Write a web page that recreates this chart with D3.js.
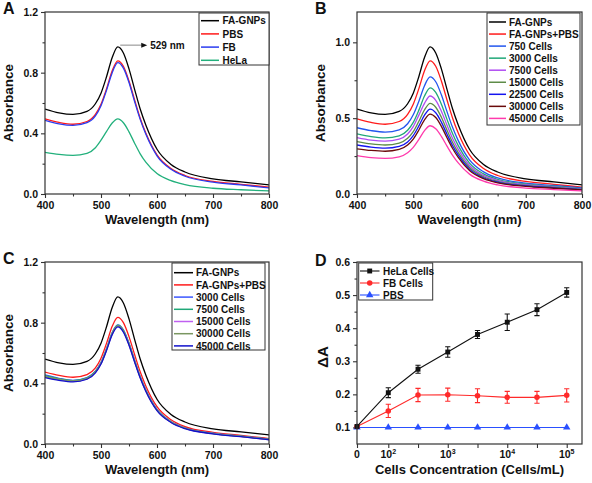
<!DOCTYPE html>
<html>
<head>
<meta charset="utf-8">
<script src="https://cdn.jsdelivr.net/npm/d3@7"></script>
<style>
body { margin: 0; background: #fff; }
text { font-family: "Liberation Sans", Arial, sans-serif; font-weight: bold; fill: #111; }
</style>
</head>
<body>
<svg id="fig" width="592" height="483"></svg>
<script>
// wavelengths (nm) the spectra were read at
var wavelength = [400,425,450,475,490,500,510,520,530,540,550,560,570,580,600,625,650,700,750,800];

// A: FA-GNPs with PBS / FB / HeLa
var faGnps  = [.560,.535,.525,.545,.595,.665,.775,.900,.970,.930,.825,.690,.560,.455,.295,.195,.145,.100,.080,.060];
var aPbs    = [.495,.472,.460,.478,.525,.592,.695,.812,.878,.842,.745,.620,.500,.402,.258,.168,.122,.083,.064,.045];
var aFb     = [.485,.462,.452,.470,.515,.582,.685,.800,.866,.830,.735,.610,.492,.395,.252,.163,.117,.078,.060,.040];
var aHela   = [.275,.261,.255,.268,.305,.355,.413,.468,.495,.470,.410,.335,.265,.210,.135,.088,.062,.038,.028,.020];
var aNames  = ["FA-GNPs","PBS","FB","HeLa"];

// B: HeLa cell numbers
var b750   = [.437,.418,.408,.423,.463,.522,.612,.714,.772,.740,.654,.543,.438,.352,.225,.146,.106,.072,.056,.040];
var b3000  = [.396,.378,.370,.384,.420,.472,.553,.646,.700,.670,.592,.492,.397,.319,.204,.133,.097,.066,.051,.036];
var b7500  = [.372,.355,.348,.362,.396,.444,.520,.598,.646,.618,.546,.454,.366,.294,.188,.123,.090,.061,.047,.033];
var b15000 = [.345,.330,.323,.336,.367,.411,.480,.555,.598,.572,.506,.421,.340,.273,.175,.114,.083,.057,.044,.031];
var b22500 = [.323,.309,.302,.314,.343,.385,.449,.520,.560,.536,.474,.394,.318,.256,.164,.107,.078,.053,.041,.029];
var b30000 = [.298,.287,.282,.294,.323,.362,.422,.489,.527,.504,.446,.371,.300,.241,.155,.101,.074,.050,.038,.027];
var b45000 = [.253,.240,.235,.245,.272,.307,.360,.418,.450,.430,.380,.316,.255,.205,.131,.085,.060,.039,.029,.020];
var bNames = ["FA-GNPs","FA-GNPs+PBS","750 Cells","3000 Cells","7500 Cells","15000 Cells","22500 Cells","30000 Cells","45000 Cells"];

// C: FB cell numbers
var cPbs   = [.474,.452,.440,.458,.502,.566,.665,.776,.835,.800,.708,.590,.476,.383,.246,.160,.115,.077,.057,.036];
var c3000  = [.455,.433,.420,.438,.480,.538,.630,.735,.786,.752,.665,.553,.445,.357,.228,.148,.106,.071,.052,.032];
var c7500  = [.450,.430,.418,.436,.478,.535,.627,.732,.783,.749,.662,.550,.443,.355,.226,.147,.105,.070,.051,.031];
var c15000 = [.442,.424,.413,.430,.472,.530,.621,.725,.776,.742,.655,.544,.438,.350,.222,.144,.103,.068,.049,.029];
var c30000 = [.445,.427,.416,.433,.475,.532,.624,.729,.780,.746,.659,.547,.441,.353,.224,.146,.104,.069,.050,.030];
var c45000 = [.438,.420,.410,.427,.469,.527,.618,.721,.772,.738,.651,.541,.435,.348,.220,.142,.101,.067,.048,.028];
var cNames = ["FA-GNPs","FA-GNPs+PBS","3000 Cells","7500 Cells","15000 Cells","30000 Cells","45000 Cells"];

// D: delta A vs cell concentration
var dConc    = [0, 100, 316, 1000, 3162, 10000, 31623, 100000];
var dHela    = [0.103,0.205,0.276,0.328,0.381,0.418,0.456,0.508];
var dHelaErr = [0,0.015,0.012,0.016,0.012,0.025,0.018,0.014];
var dFb      = [0.103,0.150,0.198,0.199,0.196,0.191,0.191,0.197];
var dFbErr   = [0,0.020,0.020,0.020,0.021,0.018,0.018,0.020];
var dPbs     = [0.1,0.1,0.1,0.1,0.1,0.1,0.1,0.1];
var dNames   = ["HeLa Cells","FB Cells","PBS"];

var svg = d3.select("#fig");

var panels = [
    {letter:"A", left:45, right:269, top:12, bottom:194,
     yTicks:[0,0.4,0.8,1.2], yMinor:[0.2,0.6,1.0],
     names:aNames, series:[faGnps,aPbs,aFb,aHela],
     colors:["#000000","#ff1a1a","#2a3cf0","#22b07c"],
     legend:{x:199, y:13, w:70, h:52, first:20.7, step:13.2, l1:201, l2:219, tx:222.5}},
    {letter:"B", left:357, right:582, top:12, bottom:194,
     yTicks:[0,0.5,1.0], yMinor:[0.25,0.75],
     names:bNames, series:[faGnps,aPbs,b750,b3000,b7500,b15000,b22500,b30000,b45000],
     colors:["#000000","#ff1a1a","#2255ee","#20a878","#b04cf2","#5e8c48","#1414f0","#6a0a0a","#ff3aac"],
     legend:{x:487, y:13, w:93, h:112, first:22, step:12.05, l1:489, l2:506, tx:509}},
    {letter:"C", left:45, right:269, top:262, bottom:444,
     yTicks:[0,0.4,0.8,1.2], yMinor:[0.2,0.6,1.0],
     names:cNames, series:[faGnps,cPbs,c3000,c7500,c15000,c30000,c45000],
     colors:["#000000","#ff1a1a","#3a55ff","#20a878","#c060f0","#7a9660","#1010cc"],
     legend:{x:172, y:263, w:93, h:87, first:272.7, step:12.2, l1:174, l2:193, tx:196}}
];

function styleAxis(g) {
    g.select(".domain").remove();
    g.selectAll("line").attr("stroke", "#333").attr("stroke-width", 1.1);
    g.selectAll("text").attr("font-size", "10.5px").style("font-family", '"Liberation Sans", Arial, sans-serif').style("font-weight", "bold");
}

panels.forEach(function(p) {
    var x = d3.scaleLinear().domain([400, 800]).range([p.left, p.right]);
    var y = d3.scaleLinear().domain([0, 1.2]).range([p.bottom, p.top]);
    var g = svg.append("g");

    // minor ticks
    g.append("g").attr("transform", "translate(0," + p.bottom + ")")
        .call(d3.axisBottom(x).tickValues([450,550,650,750]).tickSize(2.5).tickFormat(""))
        .call(styleAxis);
    g.append("g").attr("transform", "translate(" + p.left + ",0)")
        .call(d3.axisLeft(y).tickValues(p.yMinor).tickSize(2.5).tickFormat(""))
        .call(styleAxis);
    // major ticks
    g.append("g").attr("transform", "translate(0," + p.bottom + ")")
        .call(d3.axisBottom(x).tickValues([400,500,600,700,800]).tickSize(4).tickPadding(4).tickFormat(d3.format("d")))
        .call(styleAxis);
    g.append("g").attr("transform", "translate(" + p.left + ",0)")
        .call(d3.axisLeft(y).tickValues(p.yTicks).tickSize(4).tickPadding(3).tickFormat(d3.format(".1f")))
        .call(styleAxis);

    var line = d3.line()
        .x(function(d, i) { return x(wavelength[i]); })
        .y(function(d) { return y(d); })
        .curve(d3.curveMonotoneX);

    var clipId = "clip" + p.letter;
    g.append("clipPath").attr("id", clipId).append("rect")
        .attr("x", p.left).attr("y", p.top).attr("width", p.right - p.left).attr("height", p.bottom - p.top);

    g.append("g").attr("clip-path", "url(#" + clipId + ")")
        .selectAll("path")
        .data(p.series)
        .enter().append("path")
        .attr("d", line)
        .attr("fill", "none")
        .attr("stroke", function(d, i) { return p.colors[i]; })
        .attr("stroke-width", 1.3);

    g.append("rect")
        .attr("x", p.left).attr("y", p.top)
        .attr("width", p.right - p.left).attr("height", p.bottom - p.top)
        .attr("fill", "none").attr("stroke", "#333").attr("stroke-width", 1.2);

    // legend
    var L = p.legend;
    g.append("rect").attr("x", L.x).attr("y", L.y).attr("width", L.w).attr("height", L.h)
        .attr("fill", "#fff").attr("stroke", "#333").attr("stroke-width", 1);
    var items = g.selectAll(".leg").data(p.names).enter().append("g");
    items.append("line")
        .attr("x1", L.l1).attr("x2", L.l2)
        .attr("y1", function(d, i) { return L.first + i * L.step; })
        .attr("y2", function(d, i) { return L.first + i * L.step; })
        .attr("stroke", function(d, i) { return p.colors[i]; })
        .attr("stroke-width", 1.5);
    items.append("text")
        .attr("x", L.tx)
        .attr("y", function(d, i) { return L.first + i * L.step + 3.6; })
        .attr("font-size", "10px")
        .text(function(d) { return d; });

    // titles
    g.append("text").attr("x", (p.left + p.right) / 2).attr("y", p.bottom + 30)
        .attr("text-anchor", "middle").attr("font-size", "13px").text("Wavelength (nm)");
    g.append("text")
        .attr("transform", "translate(" + (p.left - 32) + "," + ((p.top + p.bottom) / 2) + ") rotate(-90)")
        .attr("text-anchor", "middle").attr("font-size", "13.5px").text("Absorbance");
    g.append("text").attr("x", p.left - 42).attr("y", p.top + 2)
        .attr("font-size", "16px").text(p.letter);

    if (p.letter == "A") {
        var px = x(529) + 3, py = y(0.975) - 1;
        g.append("line").attr("x1", px).attr("x2", px + 22).attr("y1", py).attr("y2", py)
            .attr("stroke", "#888").attr("stroke-width", 1);
        g.append("path")
            .attr("d", "M" + (px + 27) + "," + py + "l-6,-2.5l0,5z")
            .attr("fill", "#111");
        g.append("text").attr("x", px + 30).attr("y", py + 3.6)
            .attr("font-size", "10px").text("529 nm");
    }
});

// ---- panel D ----
var dL = 357, dR = 582, dT = 262, dB = 444;
var logStart = 1.474, logEnd = 5.257;
var xD = d3.scaleLinear().domain([logStart, logEnd]).range([dL, dR]);
var yD = d3.scaleLinear().domain([0.05, 0.6]).range([dB, dT]);
function lg(v) { return v === 0 ? logStart : Math.log10(v); }

var gd = svg.append("g");
gd.append("g").attr("transform", "translate(0," + dB + ")")
    .call(d3.axisBottom(xD).tickValues([logStart,2,2.5,3,3.5,4,4.5,5]).tickSize(4).tickFormat(""))
    .call(styleAxis);
gd.append("g").attr("transform", "translate(" + dL + ",0)")
    .call(d3.axisLeft(yD).tickValues([0.15,0.25,0.35,0.45,0.55]).tickSize(2.5).tickFormat(""))
    .call(styleAxis);
gd.append("g").attr("transform", "translate(" + dL + ",0)")
    .call(d3.axisLeft(yD).tickValues([0.1,0.2,0.3,0.4,0.5,0.6]).tickSize(4).tickPadding(3).tickFormat(d3.format(".1f")))
    .call(styleAxis);

// x labels: 0, 10^2 ... 10^5
var xLabels = [[logStart, null], [2, "2"], [3, "3"], [4, "4"], [5, "5"]];
xLabels.forEach(function(t) {
    var tx = gd.append("text").attr("x", xD(t[0])).attr("y", dB + 14)
        .attr("text-anchor", "middle").attr("font-size", "10.5px");
    if (t[1] === null) {
        tx.text("0");
    } else {
        tx.text("10");
        tx.append("tspan").attr("dy", -4).attr("font-size", "7px").text(t[1]);
    }
});

var dSeries = [
    {vals:dHela, err:dHelaErr, color:"#111111", sym:d3.symbolSquare},
    {vals:dFb, err:dFbErr, color:"#ff2a2a", sym:d3.symbolCircle},
    {vals:dPbs, err:null, color:"#2a50ff", sym:d3.symbolTriangle}
];

var lineD = d3.line()
    .x(function(d, i) { return xD(lg(dConc[i])); })
    .y(function(d) { return yD(d); });

// draw back to front so HeLa sits on top
dSeries.slice().reverse().forEach(function(s) {
    gd.append("path").attr("d", lineD(s.vals))
        .attr("fill", "none").attr("stroke", s.color).attr("stroke-width", 1.1);
    if (s.err) {
        s.vals.forEach(function(v, i) {
            if (!s.err[i]) return;
            var cx = xD(lg(dConc[i])), y1 = yD(v - s.err[i]), y2 = yD(v + s.err[i]);
            gd.append("path")
                .attr("d", "M" + cx + "," + y1 + "V" + y2 + "M" + (cx - 2.6) + "," + y1 + "h5.2M" + (cx - 2.6) + "," + y2 + "h5.2")
                .attr("stroke", s.color).attr("stroke-width", 1.1).attr("fill", "none");
        });
    }
    gd.selectAll(null).data(s.vals).enter().append("path")
        .attr("d", d3.symbol().type(s.sym).size(24))
        .attr("transform", function(d, i) { return "translate(" + xD(lg(dConc[i])) + "," + yD(d) + ")"; })
        .attr("fill", s.color);
});

gd.append("rect").attr("x", dL).attr("y", dT).attr("width", dR - dL).attr("height", dB - dT)
    .attr("fill", "none").attr("stroke", "#333").attr("stroke-width", 1.2);

// legend D
gd.append("rect").attr("x", 358.7).attr("y", 263).attr("width", 74).attr("height", 37)
    .attr("fill", "#fff").attr("stroke", "#333").attr("stroke-width", 1);
dSeries.forEach(function(s, i) {
    var ly = 271 + i * 12;
    gd.append("line").attr("x1", 360).attr("x2", 379.5).attr("y1", ly).attr("y2", ly)
        .attr("stroke", s.color).attr("stroke-width", 1.1);
    gd.append("path").attr("d", d3.symbol().type(s.sym).size(24))
        .attr("transform", "translate(369.7," + ly + ")").attr("fill", s.color);
    gd.append("text").attr("x", 383).attr("y", ly + 3.6).attr("font-size", "10px").text(dNames[i]);
});

gd.append("text").attr("x", (dL + dR) / 2).attr("y", dB + 30)
    .attr("text-anchor", "middle").attr("font-size", "13px").text("Cells Concentration (Cells/mL)");
gd.append("text")
    .attr("transform", "translate(" + (dL - 29) + "," + ((dT + dB) / 2 + 4) + ") rotate(-90)")
    .attr("text-anchor", "middle").attr("font-size", "15px").text("ΔA");
gd.append("text").attr("x", dL - 42).attr("y", dT + 4).attr("font-size", "16px").text("D");
</script>
</body>
</html>
